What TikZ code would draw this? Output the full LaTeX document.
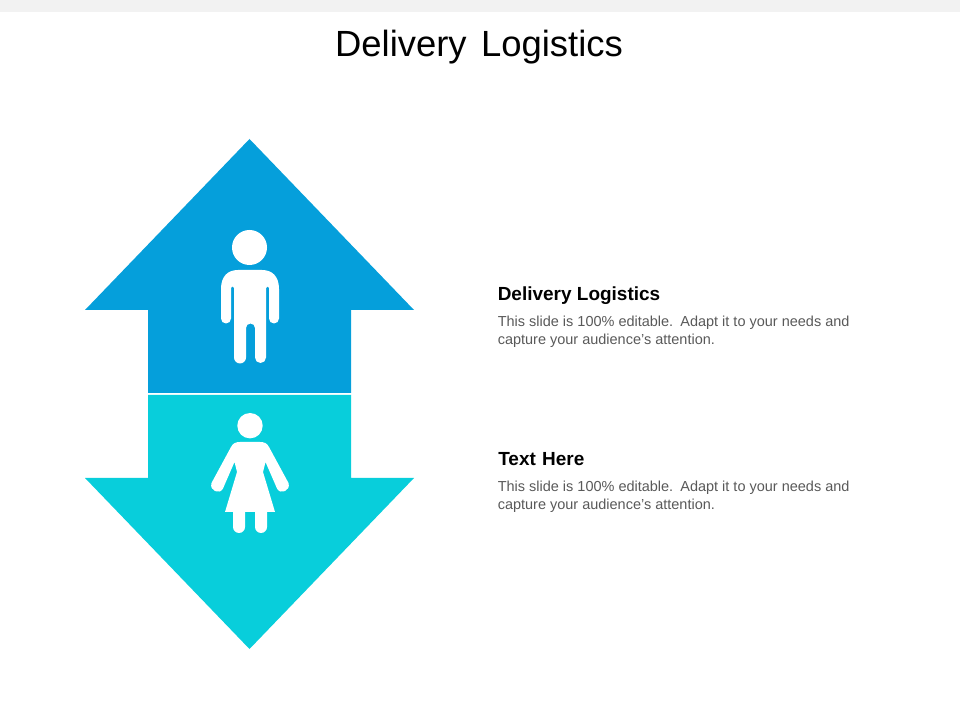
\documentclass[tikz,border=0pt]{standalone}
\usepackage{fontspec}
\setmainfont{Liberation Sans}
\definecolor{upblue}{HTML}{059FDB}
\definecolor{downcyan}{HTML}{08CEDB}
\definecolor{stripgray}{HTML}{F2F2F2}
\definecolor{bodygray}{HTML}{595959}
\tikzstyle{title}=[inner sep=0pt,anchor=base,font=\fontsize{25.9}{30}\selectfont]
\tikzstyle{heading}=[inner sep=0pt,anchor=base west,font=\bfseries\fontsize{13.5}{16}\selectfont]
\tikzstyle{bodytext}=[inner sep=0pt,anchor=base west,text=bodygray,font=\fontsize{10.3}{12.5}\selectfont]
\tikzstyle{figure}=[fill=white,draw=none]
\newcommand{\textline}{\node[bodytext]}
\begin{document}
\begin{tikzpicture}[x=0.025cm,y=-0.025cm]
		\useasboundingbox (0,0) rectangle (960,720);
		\fill[stripgray] (0,0) rectangle (960,12);
		%*********************
		\node[title] (title) at (479,57) {Delivery\hspace{0.12em} Logistics};
		%*********************
		\coordinate (a1) at (249.5,139);
		\coordinate (a2) at (414,310);
		\coordinate (a3) at (351,310);
		\coordinate (a4) at (351,393);
		\coordinate (a5) at (148,393);
		\coordinate (a6) at (148,310);
		\coordinate (a7) at (85,310);
		\fill[upblue] (a1) -- (a2) -- (a3) -- (a4) -- (a5) -- (a6) -- (a7) -- cycle;
		%*********************
		\coordinate (b1) at (249.5,649);
		\coordinate (b2) at (414,478);
		\coordinate (b3) at (351,478);
		\coordinate (b4) at (351,395);
		\coordinate (b5) at (148,395);
		\coordinate (b6) at (148,478);
		\coordinate (b7) at (85,478);
		\fill[downcyan] (b1) -- (b2) -- (b3) -- (b4) -- (b5) -- (b6) -- (b7) -- cycle;
		%*********************
		% man
		\fill[figure] (249.5,247.5) circle (17.5);
		\fill[figure] (221,289) .. controls (221,276) and (228,270) .. (238,270)
			-- (262,270) .. controls (272,270) and (279,276) .. (279,289)
			-- (279,318.5) arc[start angle=0,end angle=180,radius=5]
			-- (269,288) arc[start angle=0,end angle=-180,radius=1.5] -- (266,357.5)
			arc[start angle=0,end angle=180,radius=5.5]
			-- (255,328) arc[start angle=0,end angle=-180,radius=4.5]
			-- (246,357.5) arc[start angle=0,end angle=180,radius=6]
			-- (234,288) arc[start angle=0,end angle=-180,radius=1.5] -- (231,318.5)
			arc[start angle=0,end angle=180,radius=5] -- cycle;
		% woman
		\fill[figure] (250,425.7) circle (12.7);
		\fill[figure] (240,442) -- (260,442) .. controls (264,442) and (267,443) .. (269,447)
			-- (288.5,483) .. controls (291,491) and (280,495) .. (277,488.5)
			-- (265.5,462) -- (263,472) -- (275,512) -- (267,512) -- (267,527)
			arc[start angle=0,end angle=180,radius=6]
			-- (255,512) -- (245,512) -- (245,527)
			arc[start angle=0,end angle=180,radius=6]
			-- (233,512) -- (225,512) -- (237,472) -- (234.5,462)
			-- (223,488.5) .. controls (220,495) and (209,491) .. (211.5,483)
			-- (231,447) .. controls (233,443) and (236,442) .. (240,442) -- cycle;
		%*********************
		\node[heading] (h1) at (497.5,301) {Delivery Logistics};
		\textline (l1) at (497.5,326.5) {This slide is 100\% editable.\hspace{0.12em} Adapt it to your needs and};
		\textline (l2) at (497.5,344.5) {capture your audience's attention.};
		%*********************
		\node[heading] (h2) at (498,466) {Text\hspace{0.05em} Here};
		\textline (l3) at (497.5,491.5) {This slide is 100\% editable.\hspace{0.12em} Adapt it to your needs and};
		\textline (l4) at (497.5,509.5) {capture your audience's attention.};
		%*********************
\end{tikzpicture}
\end{document}
